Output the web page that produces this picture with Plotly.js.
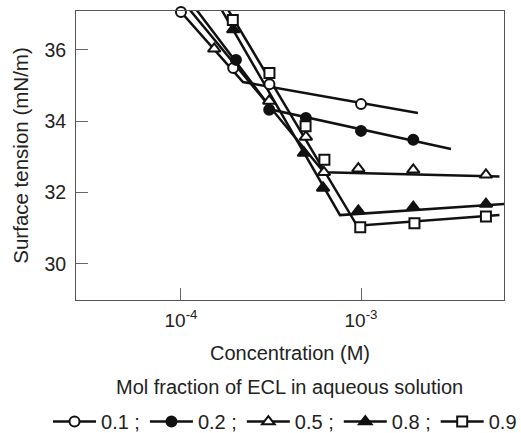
<!DOCTYPE html>
<html>
<head>
<meta charset="utf-8">
<script src="https://cdn.plot.ly/plotly-3.0.1.min.js"></script>
<style>html,body{margin:0;padding:0;background:#fff;}#chart{width:521px;height:433px;}</style>
</head>
<body>
<div id="chart"></div>
<script>
// Series names (mol fraction of ECL)
const seriesNames = ["0.1 ;", "0.2 ;", "0.5 ;", "0.8 ;", "0.9"];
const legendTitle = "Mol fraction of ECL in aqueous solution";

// Measured points: concentration (M) and surface tension (mN/m)
const conc01 = [1.0e-4, 1.95e-4, 3.1e-4, 1.0e-3];
const tens01 = [37.06, 35.49, 35.04, 34.48];
const conc02 = [2.02e-4, 3.09e-4, 4.94e-4, 1.0e-3, 1.95e-3];
const tens02 = [35.72, 34.32, 34.09, 33.73, 33.48];
const conc05 = [1.53e-4, 3.09e-4, 4.94e-4, 6.22e-4, 9.66e-4, 1.95e-3, 4.94e-3];
const tens05 = [36.03, 34.57, 33.56, 32.57, 32.67, 32.64, 32.50];
const conc08 = [1.95e-4, 4.82e-4, 6.15e-4, 9.66e-4, 1.95e-3, 4.94e-3];
const tens08 = [36.57, 33.11, 32.13, 31.49, 31.59, 31.68];
const conc09 = [1.94e-4, 3.1e-4, 4.92e-4, 6.26e-4, 9.9e-4, 1.98e-3, 4.94e-3];
const tens09 = [36.84, 35.35, 33.86, 32.92, 31.03, 31.14, 31.33];

// Fitted lines (two straight segments meeting at the CMC)
const fitConc01 = [8.73e-5, 2.21e-4, 2.07e-3];
const fitTens01 = [37.40, 35.10, 34.23];
const fitConc02 = [1.109e-4, 3.21e-4, 3.16e-3];
const fitTens02 = [37.40, 34.32, 33.22];
const fitConc05 = [1.008e-4, 6.22e-4, 5.87e-3];
const fitTens05 = [37.40, 32.57, 32.45];
const fitConc08 = [1.563e-4, 7.64e-4, 6.31e-3];
const fitTens08 = [37.40, 31.37, 31.68];
const fitConc09 = [1.694e-4, 9.51e-4, 5.87e-3];
const fitTens09 = [37.40, 31.07, 31.37];

// Axis ticks
const xTickVals = [1e-4, 1e-3];
const xTickText = ["10<sup>-4</sup>", "10<sup>-3</sup>"];
const yTickVals = [30, 32, 34, 36];
const yTickText = ["30", "32", "34", "36"];

const pts = [[conc01, tens01], [conc02, tens02], [conc05, tens05], [conc08, tens08], [conc09, tens09]];
const fits = [[fitConc01, fitTens01], [fitConc02, fitTens02], [fitConc05, fitTens05], [fitConc08, fitTens08], [fitConc09, fitTens09]];
const symbols = ["circle", "circle", "triangle-up", "triangle-up", "square"];
const fills = ["#ffffff", "#111111", "#ffffff", "#111111", "#ffffff"];
const sizes = [10, 10, 11, 11, 10];

const FONT = "Liberation Sans, Arial, Helvetica, sans-serif";
const traces = [];
for (let i = 0; i < 5; i++) {
  traces.push({
    x: fits[i][0], y: fits[i][1], mode: "lines", type: "scatter",
    line: {color: "#111111", width: 2.5}, showlegend: false, hoverinfo: "skip"
  });
}
for (let i = 0; i < 5; i++) {
  traces.push({
    x: pts[i][0], y: pts[i][1], mode: "markers", type: "scatter", showlegend: false,
    marker: {symbol: symbols[i], size: sizes[i], color: fills[i], line: {color: "#111111", width: 2}},
    cliponaxis: false
  });
}
for (let i = 0; i < 5; i++) {
  traces.push({
    x: [null], y: [null], mode: "lines+markers", type: "scatter", name: seriesNames[i],
    line: {color: "#111111", width: 2.5},
    marker: {symbol: symbols[i], size: sizes[i], color: fills[i], line: {color: "#111111", width: 2}}
  });
}

const layout = {
  width: 521, height: 433,
  margin: {l: 76, r: 17, t: 11, b: 133, autoexpand: false},
  paper_bgcolor: "#ffffff", plot_bgcolor: "#ffffff",
  font: {family: FONT, size: 19, color: "#222222"},
  showlegend: true,
  xaxis: {
    type: "log", range: [-4.583, -2.206],
    tickvals: xTickVals, ticktext: xTickText,
    ticks: "inside", ticklen: 12, tickwidth: 1, tickcolor: "#666666",
    showline: true, linecolor: "#555555", linewidth: 1, mirror: true,
    showgrid: false, zeroline: false,
    tickfont: {size: 19}, ticklabelstandoff: 3,
    title: {text: "Concentration (M)", font: {size: 20}, standoff: 16}
  },
  yaxis: {
    range: [28.99, 37.09],
    tickvals: yTickVals, ticktext: yTickText,
    ticks: "inside", ticklen: 12, tickwidth: 1, tickcolor: "#666666",
    showline: true, linecolor: "#555555", linewidth: 1, mirror: true,
    showgrid: false, zeroline: false,
    tickfont: {size: 19.5}, ticklabelstandoff: 5,
    title: {text: "Surface tension (mN/m)", font: {size: 20.5}, standoff: 10}
  },
  legend: {
    orientation: "h", x: -0.0654, xanchor: "left", y: -0.353, yanchor: "top",
    font: {size: 20}, itemwidth: 43,
    bgcolor: "rgba(0,0,0,0)"
  },
  annotations: [{
    text: legendTitle, xref: "paper", yref: "paper", x: 0.4977, y: -0.301,
    xanchor: "center", yanchor: "middle", showarrow: false, font: {size: 20}
  }]
};

Plotly.newPlot("chart", traces, layout, {displayModeBar: false, staticPlot: true});
</script>
</body>
</html>
